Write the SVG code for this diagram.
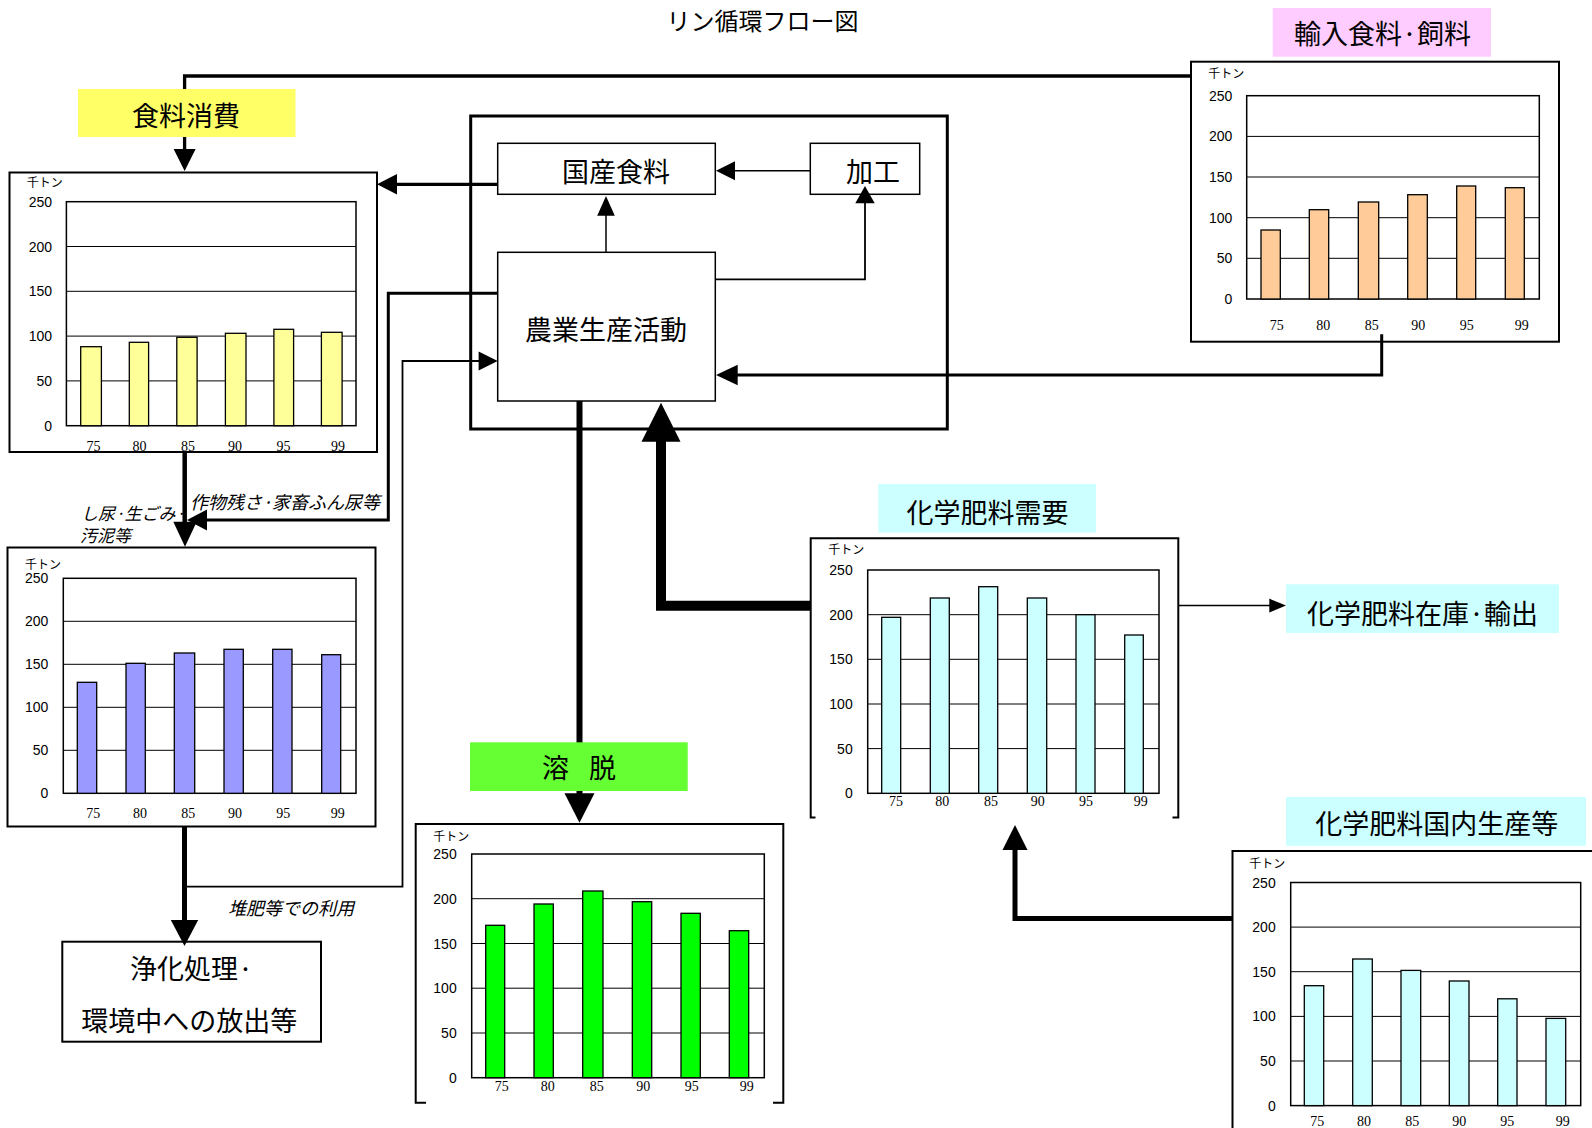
<svg xmlns="http://www.w3.org/2000/svg" width="1592" height="1128" viewBox="0 0 1592 1128">
<style>
.bg{fill:#fff}
.frame{fill:#fff;stroke:#000;stroke-width:2}
.bracket{fill:none;stroke:#000;stroke-width:2}
.plot{fill:#fff;stroke:#000;stroke-width:1.5}
.grid{fill:none;stroke:#000;stroke-width:1}
.bar{stroke:#000;stroke-width:1.3}
.by{fill:#FFFF99}.bo{fill:#FFCC99}.bp{fill:#9999FF}.bg2{fill:#00FF00}.bc{fill:#CCFFFF}
.ylab{font-family:"Liberation Sans",Arial,sans-serif;font-size:14px;text-anchor:end;fill:#000}
.xlab{font-family:"Liberation Serif","Times New Roman",serif;font-size:14px;text-anchor:middle;fill:#000}
.unit{font-family:"Noto Sans CJK JP",sans-serif;font-size:12px;fill:#000}
.jp{font-family:"Noto Sans CJK JP",sans-serif;fill:#000}
.lbl{font-size:27px;text-anchor:middle}
.it{font-size:18px;font-style:italic}
.it2{font-size:17px;font-style:italic}
.box{fill:#fff;stroke:#000;stroke-width:1.5}
.outer{fill:none;stroke:#000;stroke-width:3}
.ln{fill:none;stroke:#000;stroke-linejoin:miter}
.ah{fill:#000}
</style>
<rect class="bg" x="0" y="0" width="1592" height="1128"/>

<text class="jp" x="762.5" y="29.5" font-size="24" text-anchor="middle">リン循環フロー図</text>

<g id="system-box"><rect class="outer" x="470.7" y="116" width="476.6" height="313"/></g>

<!-- Chart: food consumption -->
<g id="chart-food">
<rect class="frame" x="9.5" y="172.5" width="367.5" height="279.5"/>
<text class="unit" x="26.8" y="187">千トン</text>
<rect class="plot" x="66.4" y="201.7" width="289.6" height="224"/>
<path class="grid" d="M66.4 380.9H356M66.4 336.1H356M66.4 291.3H356M66.4 246.5H356"/>
<rect class="bar by" x="80.7" y="346.7" width="20.7" height="79"/>
<rect class="bar by" x="129.3" y="342.3" width="19.3" height="83.4"/>
<rect class="bar by" x="176.8" y="337.3" width="20.3" height="88.4"/>
<rect class="bar by" x="225.4" y="333.3" width="20.6" height="92.4"/>
<rect class="bar by" x="273.9" y="329.3" width="19.7" height="96.4"/>
<rect class="bar by" x="321.4" y="332.3" width="20.7" height="93.4"/>
<text class="ylab" x="52" y="206.7">250</text><text class="ylab" x="52" y="251.5">200</text><text class="ylab" x="52" y="296.3">150</text><text class="ylab" x="52" y="341.1">100</text><text class="ylab" x="52" y="385.9">50</text><text class="ylab" x="52" y="430.7">0</text>
<text class="xlab" x="93.6" y="451">75</text><text class="xlab" x="139.6" y="451">80</text><text class="xlab" x="188" y="451">85</text><text class="xlab" x="235" y="451">90</text><text class="xlab" x="283.6" y="451">95</text><text class="xlab" x="337.9" y="451">99</text>
</g>

<!-- Chart: sludge etc -->
<g id="chart-waste">
<rect class="frame" x="7.5" y="547.5" width="368" height="279"/>
<text class="unit" x="25" y="569">千トン</text>
<rect class="plot" x="63.3" y="578.3" width="292.7" height="215"/>
<path class="grid" d="M63.3 750.3H356M63.3 707.3H356M63.3 664.3H356M63.3 621.3H356"/>
<rect class="bar bp" x="77.3" y="682.3" width="19.4" height="111"/>
<rect class="bar bp" x="126" y="663.3" width="19.3" height="130"/>
<rect class="bar bp" x="174.3" y="653" width="20.4" height="140.3"/>
<rect class="bar bp" x="224" y="649.3" width="19.3" height="144"/>
<rect class="bar bp" x="272.7" y="649.3" width="19.3" height="144"/>
<rect class="bar bp" x="321.7" y="654.7" width="19" height="138.6"/>
<text class="ylab" x="48.3" y="583.3">250</text><text class="ylab" x="48.3" y="626.3">200</text><text class="ylab" x="48.3" y="669.3">150</text><text class="ylab" x="48.3" y="712.3">100</text><text class="ylab" x="48.3" y="755.3">50</text><text class="ylab" x="48.3" y="798.3">0</text>
<text class="xlab" x="93.3" y="818">75</text><text class="xlab" x="140" y="818">80</text><text class="xlab" x="188.3" y="818">85</text><text class="xlab" x="235" y="818">90</text><text class="xlab" x="283.3" y="818">95</text><text class="xlab" x="337.7" y="818">99</text>
</g>

<!-- Chart: imported food/feed -->
<g id="chart-import">
<rect class="frame" x="1191" y="61.7" width="368" height="280"/>
<text class="unit" x="1208.3" y="78">千トン</text>
<rect class="plot" x="1246.7" y="95.7" width="292.6" height="203.3"/>
<path class="grid" d="M1246.7 258.3H1539.3M1246.7 217.7H1539.3M1246.7 177H1539.3M1246.7 136.4H1539.3"/>
<rect class="bar bo" x="1261" y="230" width="19.3" height="69"/>
<rect class="bar bo" x="1309.3" y="209.7" width="19.4" height="89.3"/>
<rect class="bar bo" x="1358.3" y="202" width="20.4" height="97"/>
<rect class="bar bo" x="1407.7" y="194.7" width="19.6" height="104.3"/>
<rect class="bar bo" x="1456.7" y="186" width="19" height="113"/>
<rect class="bar bo" x="1505.3" y="187.7" width="19" height="111.3"/>
<text class="ylab" x="1232.3" y="100.7">250</text><text class="ylab" x="1232.3" y="141.4">200</text><text class="ylab" x="1232.3" y="182">150</text><text class="ylab" x="1232.3" y="222.7">100</text><text class="ylab" x="1232.3" y="263.3">50</text><text class="ylab" x="1232.3" y="304">0</text>
<text class="xlab" x="1276.7" y="329.5">75</text><text class="xlab" x="1323.3" y="329.5">80</text><text class="xlab" x="1371.7" y="329.5">85</text><text class="xlab" x="1418.3" y="329.5">90</text><text class="xlab" x="1466.7" y="329.5">95</text><text class="xlab" x="1521.7" y="329.5">99</text>
</g>

<!-- Chart: leaching -->
<g id="chart-leach">
<rect x="415.7" y="824" width="367.6" height="278.7" fill="#fff"/>
<path class="bracket" d="M426 1102.7H415.7V824H783.3V1102.7H773"/>
<text class="unit" x="433.3" y="841">千トン</text>
<rect class="plot" x="471.7" y="854" width="292.6" height="223.7"/>
<path class="grid" d="M471.7 1033H764.3M471.7 988.2H764.3M471.7 943.5H764.3M471.7 898.7H764.3"/>
<rect class="bar bg2" x="485.7" y="925.3" width="19" height="152.4"/>
<rect class="bar bg2" x="534" y="904" width="19.3" height="173.7"/>
<rect class="bar bg2" x="582.7" y="891" width="20.3" height="186.7"/>
<rect class="bar bg2" x="632.3" y="901.7" width="19.4" height="176"/>
<rect class="bar bg2" x="681" y="913.3" width="19.3" height="164.4"/>
<rect class="bar bg2" x="729.3" y="930.7" width="19.4" height="147"/>
<text class="ylab" x="456.7" y="859">250</text><text class="ylab" x="456.7" y="903.7">200</text><text class="ylab" x="456.7" y="948.5">150</text><text class="ylab" x="456.7" y="993.2">100</text><text class="ylab" x="456.7" y="1038">50</text><text class="ylab" x="456.7" y="1082.7">0</text>
<text class="xlab" x="501.7" y="1090.5">75</text><text class="xlab" x="547.7" y="1090.5">80</text><text class="xlab" x="596.7" y="1090.5">85</text><text class="xlab" x="643.3" y="1090.5">90</text><text class="xlab" x="691.7" y="1090.5">95</text><text class="xlab" x="746.7" y="1090.5">99</text>
</g>

<!-- Chart: fertilizer demand -->
<g id="chart-demand">
<rect x="810.7" y="538.3" width="367.6" height="279.2" fill="#fff"/>
<path class="bracket" d="M815.5 817.5H810.7V538.3H1178.3V817.5H1172.5"/>
<text class="unit" x="828.3" y="554">千トン</text>
<rect class="plot" x="867.7" y="570" width="291.3" height="223.3"/>
<path class="grid" d="M867.7 748.6H1159M867.7 704H1159M867.7 659.3H1159M867.7 614.7H1159"/>
<rect class="bar bc" x="881.7" y="617.3" width="19" height="176"/>
<rect class="bar bc" x="930.3" y="598" width="19" height="195.3"/>
<rect class="bar bc" x="978.7" y="586.7" width="19" height="206.6"/>
<rect class="bar bc" x="1027.3" y="598" width="19.4" height="195.3"/>
<rect class="bar bc" x="1076" y="614.7" width="19" height="178.6"/>
<rect class="bar bc" x="1124.7" y="635" width="18.6" height="158.3"/>
<text class="ylab" x="852.7" y="575">250</text><text class="ylab" x="852.7" y="619.7">200</text><text class="ylab" x="852.7" y="664.3">150</text><text class="ylab" x="852.7" y="709">100</text><text class="ylab" x="852.7" y="753.6">50</text><text class="ylab" x="852.7" y="798.3">0</text>
<text class="xlab" x="896" y="805.5">75</text><text class="xlab" x="942.3" y="805.5">80</text><text class="xlab" x="991" y="805.5">85</text><text class="xlab" x="1037.7" y="805.5">90</text><text class="xlab" x="1086" y="805.5">95</text><text class="xlab" x="1140.7" y="805.5">99</text>
</g>

<!-- Chart: domestic fertilizer production -->
<g id="chart-production">
<rect class="frame" x="1232.5" y="851" width="380" height="300"/>
<text class="unit" x="1249.3" y="868">千トン</text>
<rect class="plot" x="1290.7" y="882.5" width="290" height="223.1"/>
<path class="grid" d="M1290.7 1061H1580.7M1290.7 1016.4H1580.7M1290.7 971.7H1580.7M1290.7 927.1H1580.7"/>
<rect class="bar bc" x="1304.3" y="985.7" width="19.4" height="119.9"/>
<rect class="bar bc" x="1352.7" y="959" width="19.6" height="146.6"/>
<rect class="bar bc" x="1401" y="970.4" width="19.7" height="135.2"/>
<rect class="bar bc" x="1449.3" y="981" width="19.7" height="124.6"/>
<rect class="bar bc" x="1497.7" y="998.8" width="19.3" height="106.8"/>
<rect class="bar bc" x="1546" y="1018.4" width="19.7" height="87.2"/>
<text class="ylab" x="1275.7" y="887.5">250</text><text class="ylab" x="1275.7" y="932.1">200</text><text class="ylab" x="1275.7" y="976.7">150</text><text class="ylab" x="1275.7" y="1021.4">100</text><text class="ylab" x="1275.7" y="1066">50</text><text class="ylab" x="1275.7" y="1110.6">0</text>
<text class="xlab" x="1317.3" y="1126">75</text><text class="xlab" x="1364" y="1126">80</text><text class="xlab" x="1412.3" y="1126">85</text><text class="xlab" x="1459.3" y="1126">90</text><text class="xlab" x="1507.3" y="1126">95</text><text class="xlab" x="1562.7" y="1126">99</text>
</g>

<!-- Boxes -->
<g id="node-domestic-food">
<rect class="box" x="497.7" y="143.3" width="217.6" height="51"/>
<text class="jp lbl" x="616" y="182">国産食料</text>
</g>
<g id="node-processing">
<rect class="box" x="810.3" y="143.3" width="109.4" height="51"/>
<text class="jp lbl" x="873" y="182">加工</text>
</g>
<g id="node-agriculture">
<rect class="box" x="497.7" y="252.3" width="217.6" height="148.7"/>
<text class="jp lbl" x="606" y="339.5">農業生産活動</text>
</g>
<g id="node-treatment">
<rect class="box" x="62.3" y="941.7" width="258.7" height="100" style="stroke-width:2"/>
<text class="jp" x="130" y="979" font-size="27">浄化処理·</text>
<text class="jp lbl" x="189.2" y="1031">環境中への放出等</text>
</g>

<!-- Connectors -->
<g id="connectors">
<polyline class="ln" stroke-width="3.3" points="1191,76 184.6,76 184.6,150"/>
<polygon class="ah" points="173.6,149 195.6,149 184.6,171"/>

<line class="ln" stroke-width="3.3" x1="497.7" y1="184.3" x2="396" y2="184.3"/>
<polygon class="ah" points="377,184.3 397,174 397,194.6"/>

<line class="ln" stroke-width="1.5" x1="810.3" y1="170.7" x2="734" y2="170.7"/>
<polygon class="ah" points="716,170.7 735,161.2 735,180.2"/>

<line class="ln" stroke-width="1.5" x1="606" y1="252.3" x2="606" y2="214"/>
<polygon class="ah" points="606,196 597.2,215.7 614.8,215.7"/>

<polyline class="ln" stroke-width="1.8" points="715.3,279.3 865,279.3 865,202"/>
<polygon class="ah" points="865,186 855.3,203.3 874.7,203.3"/>

<polyline class="ln" stroke-width="3" points="1381.7,334.3 1381.7,375 736,375"/>
<polygon class="ah" points="716,375 737.7,364.7 737.7,385.3"/>

<polyline class="ln" stroke-width="3" points="497.7,293.3 388.3,293.3 388.3,520 206,520"/>
<polygon class="ah" points="187,520 207,509.5 207,530.5"/>

<line class="ln" stroke-width="4.5" x1="184.7" y1="452" x2="184.7" y2="523"/>
<polygon class="ah" points="185,546.7 173.3,521.7 196.7,521.7"/>

<line class="ln" stroke-width="5" x1="184.5" y1="827" x2="184.5" y2="921"/>
<polygon class="ah" points="184.5,946 170.8,920 198.2,920"/>

<polyline class="ln" stroke-width="1.8" points="184.5,886.7 402.5,886.7 402.5,361 479,361"/>
<polygon class="ah" points="497.7,361 478.6,351.5 478.6,370.5"/>

<line class="ln" stroke-width="6" x1="579.5" y1="401" x2="579.5" y2="795"/>
<polygon class="ah" points="579.5,822.7 564.5,793.3 594.5,793.3"/>

<polyline class="ln" stroke-width="10" points="810.7,605.7 661,605.7 661,440"/>
<polygon class="ah" points="661,402.7 641.5,441.7 680.5,441.7"/>

<line class="ln" stroke-width="1.5" x1="1178.3" y1="605.6" x2="1271" y2="605.6"/>
<polygon class="ah" points="1286,605.6 1269.3,598.6 1269.3,612.6"/>

<polyline class="ln" stroke-width="5" points="1232.3,918.5 1015,918.5 1015,848"/>
<polygon class="ah" points="1015,825 1002.5,850 1027.5,850"/>

<text class="jp it" x="190" y="508.5">作物残さ·家畜ふん尿等</text>
<text class="jp it2" x="81" y="519.5">し尿·生ごみ·</text>
<text class="jp it2" x="80" y="542">汚泥等</text>
<text class="jp it" x="228" y="914.5">堆肥等での利用</text>
</g>

<!-- Labels -->
<g id="label-food-consumption">
<rect x="78" y="89" width="217.5" height="48" fill="#FFFF66"/>
<text class="jp lbl" x="186" y="125.8">食料消費</text>
</g>
<g id="label-import">
<rect x="1272.7" y="8" width="218.3" height="48.7" fill="#FFCCFF"/>
<text class="jp lbl" x="1382.5" y="43.7">輸入食料·飼料</text>
</g>
<g id="label-leaching">
<rect x="470" y="742.3" width="217.7" height="48.7" fill="#66FF33"/>
<text class="jp lbl" x="579" y="777.5" word-spacing="14">溶 脱</text>
</g>
<g id="label-demand">
<rect x="878.3" y="484" width="217.7" height="48.7" fill="#CCFFFF"/>
<text class="jp lbl" x="987.5" y="522.5">化学肥料需要</text>
</g>
<g id="label-stock">
<rect x="1286" y="584.2" width="273" height="48.8" fill="#CCFFFF"/>
<text class="jp lbl" x="1422.5" y="623.6">化学肥料在庫·輸出</text>
</g>
<g id="label-production">
<rect x="1286" y="797" width="300" height="48.8" fill="#CCFFFF"/>
<text class="jp lbl" x="1436.7" y="833.6">化学肥料国内生産等</text>
</g>
</svg>
